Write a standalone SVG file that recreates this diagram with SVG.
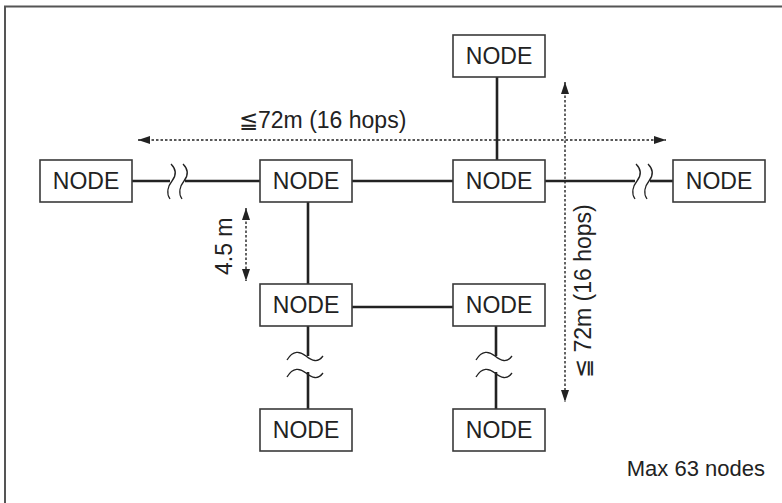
<svg xmlns="http://www.w3.org/2000/svg" width="782" height="503" viewBox="0 0 782 503">
<style>
.box{fill:#fff;stroke:#3a3a3a;stroke-width:1.6}
.lbl{font-family:"Liberation Sans",Arial,sans-serif;font-size:23px;fill:#222}
.wire{stroke:#222;stroke-width:2.6;fill:none}
.brk{stroke:#222;stroke-width:1.3;fill:none}
.dim{stroke:#222;stroke-width:1.4;stroke-dasharray:2.5 2;fill:none}
.txt{font-family:"Liberation Sans",Arial,sans-serif;fill:#222}
</style>
<defs>
<marker id="ah" viewBox="0 0 12 8" refX="12" refY="4" markerWidth="12" markerHeight="8" markerUnits="userSpaceOnUse" orient="auto-start-reverse">
<path d="M0,0 L12,4 L0,8 Z" fill="#222"/>
</marker>
<path id="sq" d="M171,164 C177,170 176,176 172,181 C168,186 166,193 170,199"/>
<path id="tl" d="M287,360 C293,350 300,351 306,356 C312,361 318,363 323,356"/>
</defs>
<rect width="782" height="503" fill="#fff"/>
<path d="M5,503 V6.5 H782" fill="none" stroke="#555" stroke-width="2"/>

<g id="connectors">
<line class="wire" x1="132" y1="181" x2="170" y2="181"/>
<line class="wire" x1="185" y1="181" x2="260" y2="181"/>
<use href="#sq" class="brk"/>
<use href="#sq" class="brk" transform="translate(12,0)"/>
<line class="wire" x1="352" y1="181" x2="453" y2="181"/>
<line class="wire" x1="545" y1="181" x2="635" y2="181"/>
<line class="wire" x1="650" y1="181" x2="673" y2="181"/>
<use href="#sq" class="brk" transform="translate(465,0)"/>
<use href="#sq" class="brk" transform="translate(477,0)"/>
<line class="wire" x1="497" y1="77" x2="497" y2="160"/>
<line class="wire" x1="308" y1="202" x2="308" y2="284"/>
<line class="wire" x1="352" y1="307" x2="453" y2="307"/>
<line class="wire" x1="308" y1="326" x2="308" y2="356"/>
<line class="wire" x1="308" y1="372" x2="308" y2="409"/>
<use href="#tl" class="brk"/>
<use href="#tl" class="brk" transform="translate(0,17)"/>
<line class="wire" x1="496" y1="326" x2="496" y2="356"/>
<line class="wire" x1="496" y1="372" x2="496" y2="409"/>
<use href="#tl" class="brk" transform="translate(189,0)"/>
<use href="#tl" class="brk" transform="translate(189,17)"/>
</g>

<g id="dimensions">
<line class="dim" x1="138" y1="140" x2="666" y2="140" marker-start="url(#ah)" marker-end="url(#ah)"/>
<line class="dim" x1="565" y1="82" x2="565" y2="402" marker-start="url(#ah)" marker-end="url(#ah)"/>
<line class="dim" x1="246" y1="208" x2="246" y2="281" marker-start="url(#ah)" marker-end="url(#ah)"/>
<text class="txt" x="239" y="128" font-size="23">≦72m (16 hops)</text>
<text class="txt" font-size="23" transform="translate(591,378) rotate(-90)">≦ 72m (16 hops)</text>
<text class="txt" font-size="23" transform="translate(232,275) rotate(-90)">4.5 m</text>
<text class="txt" x="765" y="476" font-size="22" text-anchor="end">Max 63 nodes</text>
</g>

<g id="node-top"><rect class="box" x="453" y="35" width="92" height="42"/><text class="lbl" x="499" y="64" text-anchor="middle">NODE</text></g>
<g id="node-left"><rect class="box" x="40" y="160" width="92" height="42"/><text class="lbl" x="86" y="189" text-anchor="middle">NODE</text></g>
<g id="node-mid1"><rect class="box" x="260" y="160" width="92" height="42"/><text class="lbl" x="306" y="189" text-anchor="middle">NODE</text></g>
<g id="node-mid2"><rect class="box" x="453" y="160" width="92" height="42"/><text class="lbl" x="499" y="189" text-anchor="middle">NODE</text></g>
<g id="node-right"><rect class="box" x="673" y="160" width="92" height="42"/><text class="lbl" x="719" y="189" text-anchor="middle">NODE</text></g>
<g id="node-r3a"><rect class="box" x="260" y="284" width="92" height="42"/><text class="lbl" x="306" y="313" text-anchor="middle">NODE</text></g>
<g id="node-r3b"><rect class="box" x="453" y="284" width="92" height="42"/><text class="lbl" x="499" y="313" text-anchor="middle">NODE</text></g>
<g id="node-r4a"><rect class="box" x="260" y="409" width="92" height="42"/><text class="lbl" x="306" y="438" text-anchor="middle">NODE</text></g>
<g id="node-r4b"><rect class="box" x="453" y="409" width="92" height="42"/><text class="lbl" x="499" y="438" text-anchor="middle">NODE</text></g>
</svg>
